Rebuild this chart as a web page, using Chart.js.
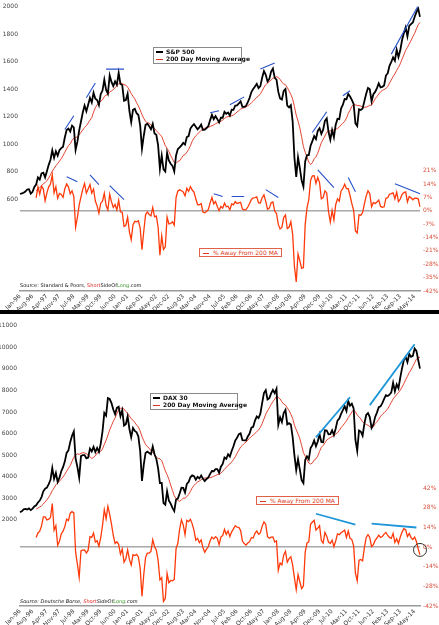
<!DOCTYPE html>
<html>
<head>
<meta charset="utf-8">
<script src="https://cdn.jsdelivr.net/npm/chart.js@4.4.0/dist/chart.umd.min.js"></script>
<style>
body { margin: 0; background: #fff; font-family: "DejaVu Sans", Verdana, sans-serif; }
#wrap { position: relative; width: 439px; height: 625px; overflow: hidden; }
#wrap canvas { position: absolute; left: 0; }
#topChart { top: 0; }
#botChart { top: 314px; }
.sep { position: absolute; left: 0; top: 310px; width: 439px; height: 4px; background: #000; }
.leg { position: absolute; background: #fff; border: 1px solid #8a8a8a; font: bold 6px "DejaVu Sans", Verdana, sans-serif; line-height: 7px; padding: 0 2px; white-space: nowrap; color: #111; }
.leg .k { display: inline-block; width: 7px; margin-right: 3px; vertical-align: middle; }
.pleg { position: absolute; background: #fff; border: 1px solid #e0604a; color: #e03a20; font: 6px "DejaVu Sans", Verdana, sans-serif; line-height: 7px; padding: 0 3px; white-space: nowrap; }
.pleg .k { display: inline-block; width: 6px; height: 1px; background: #e03a20; margin-right: 4px; vertical-align: middle; }
.src { position: absolute; left: 20px; font: 5px "DejaVu Sans", Verdana, sans-serif; color: #111; white-space: nowrap; }
</style>
</head>
<body>
<div id="wrap">
  <canvas id="topChart" width="439" height="310"></canvas>
  <div class="sep"></div>
  <canvas id="botChart" width="439" height="311"></canvas>

  <div class="leg" style="left:153px;top:47px;width:83px;height:15px;">
    <div><span class="k" style="height:2px;background:#000"></span>S&amp;P 500</div>
    <div><span class="k" style="height:1px;background:#e0301e"></span>200 Day Moving Average</div>
  </div>
  <div class="pleg" style="left:199px;top:248px;"><span class="k"></span>% Away From 200 MA</div>
  <div class="src" style="top:282px;">Source: Standard &amp; Poors, <span style="color:#e02020">Short</span>SideOf<span style="color:#3a9a2a">Long</span>.com</div>

  <div class="leg" style="left:150px;top:393px;width:82px;height:15px;">
    <div><span class="k" style="height:2px;background:#000"></span>DAX 30</div>
    <div><span class="k" style="height:1px;background:#e0301e"></span>200 Day Moving Average</div>
  </div>
  <div class="pleg" style="left:256px;top:496px;"><span class="k"></span>% Away From 200 MA</div>
  <div class="src" style="top:598px;font-style:italic;">Source: Deutsche Borse, <span style="color:#e02020">Short</span>SideOf<span style="color:#3a9a2a">Long</span>.com</div>
</div>

<script>
// months Jan-96 .. Aug-14, one value per month
const monthNames = ['Jan','Feb','Mar','Apr','May','Jun','Jul','Aug','Sep','Oct','Nov','Dec'];
const months = [];
for (let y = 1996; y <= 2014; y++) {
  for (let m = 0; m < 12; m++) {
    if (y === 2014 && m > 7) break;
    months.push(monthNames[m] + '-' + String(y).slice(2));
  }
}
const tickLabels = ['Jan-96','Aug-96','Apr-97','Nov-97','Jul-98','Mar-99','Oct-99','Jun-00','Jan-01','Sep-01',
  'May-02','Dec-02','Aug-03','Mar-04','Nov-04','Jul-05','Feb-06','Oct-06','May-07','Jan-08',
  'Aug-08','Apr-09','Dec-09','Jul-10','Mar-11','Oct-11','Jun-12','Feb-13','Sep-13','May-14'];

// moving average and % series start 9 months in
const maStart = 9;

const spx = [
  636,640,645,654,669,671,639,652,687,705,757,741,
  786,791,757,801,848,885,954,899,947,915,955,970,
  980,1049,1102,1112,1091,1134,1121,957,1017,1099,1164,1229,
  1280,1238,1286,1335,1302,1373,1329,1320,1283,1363,1389,1469,
  1394,1366,1499,1452,1421,1455,1431,1518,1437,1429,1315,1320,
  1366,1240,1160,1249,1256,1224,1211,1134,965,1060,1139,1148,
  1130,1107,1147,1077,1067,990,820,916,815,800,936,880,
  856,841,800,917,964,975,990,1008,996,1051,1058,1112,
  1131,1145,1126,1107,1121,1141,1102,1104,1115,1130,1174,1212,
  1181,1204,1181,1157,1192,1191,1234,1220,1229,1207,1249,1248,
  1280,1281,1295,1311,1270,1270,1277,1304,1336,1378,1401,1418,
  1438,1407,1421,1482,1531,1503,1455,1474,1527,1549,1481,1468,
  1379,1331,1323,1386,1400,1280,1267,1283,1165,900,760,903,
  826,735,690,873,919,919,987,1021,1057,1036,1096,1115,
  1074,1104,1169,1187,1089,1031,1102,1049,1141,1183,1181,1258,
  1286,1327,1326,1364,1345,1321,1292,1150,1131,1253,1247,1258,
  1312,1366,1408,1398,1310,1362,1379,1407,1441,1412,1416,1426,
  1498,1515,1569,1598,1631,1606,1686,1633,1682,1757,1806,1848,
  1783,1859,1872,1884,1924,1960,1985,1925
];
const spxMA = [
  660,672,682,696,710,719,732,753,776,803,
  822,841,858,875,893,915,940,966,988,1002,
  1026,1043,1047,1053,1066,1085,1103,1120,1133,1153,
  1173,1191,1232,1264,1286,1298,1311,1322,1345,1356,
  1359,1379,1386,1396,1409,1424,1439,1444,1440,1432,
  1428,1414,1393,1367,1347,1329,1300,1277,1248,1213,
  1187,1164,1155,1152,1137,1127,1112,1097,1083,1069,
  1054,1022,987,968,945,916,892,865,858,873,
  878,896,917,923,940,960,987,1020,1043,1059,
  1072,1086,1099,1109,1115,1120,1122,1127,1133,1139,
  1148,1154,1156,1165,1174,1186,1195,1200,1200,1206,
  1211,1221,1233,1243,1255,1259,1264,1269,1279,1287,
  1300,1312,1326,1340,1350,1365,1386,1412,1432,1443,
  1453,1466,1479,1483,1489,1485,1470,1449,1437,1432,
  1412,1386,1360,1328,1271,1210,1167,1117,1052,981,
  940,905,869,851,863,893,906,933,971,1010,
  1033,1058,1085,1095,1096,1100,1102,1106,1113,1124,
  1139,1151,1165,1188,1222,1246,1273,1288,1285,1280,
  1280,1276,1269,1267,1268,1274,1282,1283,1305,1329,
  1345,1364,1380,1390,1396,1405,1417,1443,1466,1491,
  1511,1536,1558,1584,1618,1648,1682,1703,1729,1753,
  1781,1805,1838,1868,1885
];
const spxPct = [
  6.8,12.6,8.7,12.9,11.4,5.3,9.4,12.6,14.0,18.8,
  9.4,12.6,6.6,9.1,8.6,7.1,11.6,14.1,12.6,8.9,
  10.5,7.5,-8.6,-3.4,3.1,7.3,11.4,14.3,9.3,11.5,
  13.8,9.3,11.4,5.1,2.6,-1.2,4.0,5.1,9.2,2.8,
  0.5,8.7,4.8,1.8,3.3,0.5,5.5,-0.5,-0.8,-8.2,
  -7.6,-3.4,-11.0,-15.1,-7.3,-5.5,-5.8,-5.2,-9.1,-20.4,
  -10.7,-2.1,-0.6,-1.9,-2.6,1.8,-3.1,-2.7,-8.6,-23.3,
  -13.1,-20.3,-18.9,-3.3,-6.9,-6.6,-5.7,-7.5,6.9,10.4,
  11.0,10.5,9.9,7.9,11.8,10.2,12.7,10.9,9.8,6.3,
  3.3,3.2,3.8,-0.6,-1.0,-0.4,0.7,4.2,7.0,3.7,
  4.9,2.3,0.1,2.3,1.4,4.0,2.1,2.4,0.6,3.6,
  3.1,4.8,3.9,4.2,4.5,0.9,0.5,0.6,2.0,3.8,
  6.0,6.8,6.9,7.3,4.2,4.1,6.9,8.4,5.0,0.8,
  1.4,4.2,4.7,-0.1,-1.4,-7.1,-9.5,-8.7,-3.5,-2.2,
  -9.3,-8.6,-5.7,-12.3,-29.2,-37.2,-22.6,-26.1,-30.1,-29.7,
  -7.1,1.5,5.8,16.0,18.3,18.4,14.3,17.5,14.8,6.3,
  6.9,10.5,9.4,-0.5,-5.9,0.2,-4.8,3.2,6.3,5.1,
  10.4,11.7,13.9,11.6,11.6,7.9,3.8,0.3,-10.5,-11.6,
  -2.1,-2.3,-0.9,3.6,7.7,10.5,9.0,2.1,4.4,3.8,
  4.6,5.6,2.3,1.9,2.1,6.6,6.9,8.7,9.0,9.4,
  6.3,9.8,4.8,6.2,8.6,9.6,9.9,4.7,7.5,6.8,
  5.8,6.6,6.6,6.3,2.1
];

const dax = [
  2352,2390,2485,2500,2478,2524,2446,2514,2621,2671,2800,2889,
  3050,3320,3439,3490,3650,3850,4400,3900,4170,3750,3950,4250,
  4440,4710,5100,5220,5600,5900,6100,4830,4450,3950,4950,5000,
  5000,4850,4880,5300,5170,5380,5140,5330,5150,5520,6100,6960,
  6830,7640,7600,7410,7110,6900,7190,7240,6800,7080,6370,6430,
  6790,6210,5830,6260,6120,6060,5860,5190,3800,4560,5100,5160,
  5100,5040,5400,5040,4820,4380,3700,3710,2770,2700,3320,2890,
  2750,2550,2400,2940,2980,3220,3490,3480,3260,3660,3750,3970,
  4060,4020,3860,3990,3920,4050,3900,3790,3890,3960,4130,4260,
  4250,4350,4350,4180,4460,4590,4890,4830,5040,4930,5190,5410,
  5670,5800,5970,6010,5690,5680,5680,5860,6000,6270,6310,6600,
  6790,6720,6920,7410,7880,8010,7580,7640,7860,8020,7870,8070,
  6400,6750,6530,6950,7100,6420,6480,6420,5830,4990,4300,4810,
  4340,3840,3700,4770,4940,4810,5330,5460,5680,5410,5630,5960,
  5610,5600,6150,6140,5960,5970,6150,5930,6230,6600,6690,6910,
  7080,7270,7040,7510,7290,7380,7160,5700,5200,6140,6090,5900,
  6460,6860,6950,6760,6260,6420,6770,6970,7220,7260,7410,7610,
  7780,7740,7800,7910,8350,7960,8280,8100,8590,9030,9410,9550,
  9310,9690,9560,9600,9940,9830,9410,9010
];
const daxMA = [
  2498,2543,2593,2649,2731,2827,2924,3044,3178,3356,
  3479,3616,3702,3792,3885,3985,4107,4252,4389,4509,
  4709,4902,5010,5060,5030,5081,5110,5100,5063,4991,
  4931,4838,4893,4962,5100,5120,5172,5282,5493,5688,
  5922,6165,6368,6565,6722,6926,7098,7168,7180,7134,
  7013,6932,6812,6684,6620,6513,6395,6301,6112,5855,
  5668,5499,5394,5321,5199,5127,5025,4921,4840,4830,
  4745,4512,4266,4088,3873,3608,3359,3117,2973,2901,
  2852,2924,3002,2996,3073,3173,3315,3481,3589,3677,
  3754,3797,3854,3918,3931,3945,3944,3951,3975,4014,
  4050,4093,4106,4162,4242,4342,4429,4520,4587,4681,
  4787,4919,5081,5232,5374,5454,5539,5603,5696,5777,
  5863,5927,6007,6089,6160,6283,6456,6676,6891,7049,
  7186,7341,7483,7591,7726,7674,7608,7473,7367,7319,
  7197,7059,6899,6695,6387,6177,5983,5764,5453,5113,
  4948,4794,4633,4583,4630,4768,4828,4957,5169,5360,
  5443,5564,5697,5760,5811,5858,5910,5970,6034,6142,
  6273,6366,6479,6587,6741,6855,7000,7093,7003,6854,
  6777,6678,6541,6483,6418,6384,6322,6232,6304,6461,
  6544,6657,6793,6888,6963,7046,7144,7298,7447,7605,
  7704,7810,7894,8012,8154,8317,8498,8649,8827,8948,
  9112,9278,9451,9533,9531
];
const daxPct = [
  6.9,10.1,11.4,15.1,21.6,21.6,19.4,19.9,21.1,31.1,
  12.1,15.3,1.3,4.2,9.4,11.4,14.7,19.9,18.9,24.2,
  25.3,24.4,-3.6,-12.1,-21.5,-2.6,-2.2,-2.0,-4.2,-2.2,
  7.5,6.9,10.0,3.6,4.5,0.6,6.7,15.5,26.7,20.1,
  29.0,23.3,16.4,8.3,2.6,3.8,2.0,-5.1,-1.4,-10.7,
  -8.3,-2.0,-8.8,-12.8,-5.4,-6.0,-5.2,-7.0,-15.1,-35.1,
  -19.5,-7.3,-4.3,-4.2,-3.1,5.3,0.3,-2.1,-9.5,-23.4,
  -21.8,-38.6,-36.7,-18.8,-25.4,-23.8,-24.1,-23.0,-1.1,2.7,
  12.9,19.4,15.9,8.8,19.1,18.2,19.8,16.6,12.0,5.0,
  6.3,3.2,5.1,-0.5,-3.6,-1.4,0.4,4.5,7.2,5.9,
  7.4,6.3,1.8,7.2,8.2,12.6,9.1,11.5,7.5,10.9,
  13.0,15.3,14.2,14.1,11.8,4.3,2.5,1.4,2.9,3.9,
  6.9,6.5,9.9,11.5,9.1,10.1,14.8,18.0,16.2,7.5,
  6.3,7.1,7.2,3.7,4.5,-16.6,-11.3,-12.6,-5.7,-3.0,
  -10.8,-8.2,-6.9,-12.9,-21.9,-30.4,-19.6,-24.7,-29.6,-27.6,
  -3.6,3.0,3.8,16.3,17.9,19.1,12.1,13.6,15.3,4.7,
  2.9,10.5,7.8,3.5,2.7,5.0,0.3,4.4,9.4,8.9,
  10.2,11.2,12.2,6.9,11.4,6.3,5.4,0.9,-18.6,-24.1,
  -9.4,-8.8,-9.8,-0.4,6.9,8.9,6.9,0.4,1.8,4.8,
  6.5,8.5,6.9,7.6,9.3,10.4,8.3,6.9,6.2,9.8,
  3.3,6.0,2.6,7.2,10.7,13.1,12.4,7.6,9.8,6.8,
  5.4,7.1,4.0,-1.3,-5.5
];

// hand-drawn trend lines: [startMonth, startValue, endMonth, endValue]
const spxTrend = [[25,1105,30,1206],[37,1336,42,1444],[48,1545,58,1545],[106,1228,111,1242],
  [117,1286,125,1343],[134,1545,142,1589],[163,1084,171,1235],[180,1351,184,1387],[207,1654,222,2007]];
const spxPctTrend = [[26,17.9,32,15.3],[39,18.9,44,13.7],[50,13.2,58,5.9],[108,9.0,113,7.5],
  [118,7.5,125,7.5],[137,11.1,144,7.0],[166,21.5,175,12.1],[183,17.4,187,10.0],[209,14.2,223,9.0]];
const daxTrend = [[165,5818,184,7682],[195,7318,220,10136]];
const daxPctTrend = [[165,23.8,187,16.1],[196,16.8,221,14.0]];
const daxCircle = [223, -2];

const spxLeftTicks = [600,800,1000,1200,1400,1600,1800,2000];
const spxRightTicks = [-42,-35,-28,-21,-14,-7,0,7,14,21];
const daxLeftTicks = [2000,3000,4000,5000,6000,7000,8000,9000,10000,11000];
const daxRightTicks = [-42,-28,-14,0,14,28,42];

const pad = n => Array(n).fill(null);
const tickFont = { family: 'DejaVu Sans', size: 6 };

function trendSets(list, axis, color, width) {
  return list.map(t => ({
    data: [{ x: months[t[0]], y: t[1] }, { x: months[t[2]], y: t[3] }],
    yAxisID: axis, borderColor: color, borderWidth: width, pointRadius: 0, tension: 0
  }));
}

function makeChart(id, cfg) {
  const datasets = [].concat(
    trendSets(cfg.trend, 'y', cfg.trendColor, cfg.trendWidth),
    trendSets(cfg.pctTrend, 'y2', cfg.trendColor, cfg.trendWidth),
    cfg.extra || [],
    [
      { data: cfg.price, yAxisID: 'y', borderColor: '#000', borderWidth: 1.8, pointRadius: 0, tension: 0 },
      { data: pad(maStart).concat(cfg.ma), yAxisID: 'y', borderColor: '#e0301e', borderWidth: 0.9, pointRadius: 0, tension: 0 },
      { data: pad(maStart).concat(cfg.pct), yAxisID: 'y2', borderColor: '#ff3a0a', borderWidth: 1.3, pointRadius: 0, tension: 0 }
    ]
  );
  return new Chart(document.getElementById(id), {
    type: 'line',
    data: { labels: months, datasets: datasets },
    options: {
      responsive: false, animation: false, events: [],
      layout: { padding: { top: cfg.padTop, left: 0, right: 0, bottom: 0 } },
      plugins: { legend: { display: false }, tooltip: { enabled: false } },
      scales: {
        x: {
          offset: false,
          grid: { display: false, drawTicks: false },
          border: { display: true, color: '#9a9a9a', width: 1.5 },
          afterFit: s => { s.height = 19; s.paddingLeft = 0; s.paddingRight = 0; },
          ticks: {
            autoSkip: false, minRotation: 45, maxRotation: 45, padding: 2,
            font: tickFont, color: '#333',
            callback: function (v) { const l = this.getLabelForValue(v); return tickLabels.includes(l) ? l : null; }
          }
        },
        y: {
          position: 'left', min: cfg.leftMin, max: cfg.leftMax,
          grid: { display: false, drawTicks: false }, border: { display: false },
          afterFit: s => { s.width = 20; },
          afterBuildTicks: s => { s.ticks = cfg.leftTicks.map(v => ({ value: v })); },
          ticks: { font: tickFont, color: '#444', padding: cfg.leftPad, callback: v => String(v) }
        },
        y2: {
          position: 'right', min: cfg.rightMin, max: cfg.rightMax,
          border: { display: false },
          grid: { drawTicks: false, lineWidth: 1.5, color: c => (c.tick && c.tick.value === 0 ? '#a8a8a8' : 'rgba(0,0,0,0)') },
          afterFit: s => { s.width = 19; },
          afterBuildTicks: s => { s.ticks = cfg.rightTicks.map(v => ({ value: v })); },
          ticks: { font: tickFont, color: '#d8503c', padding: 3, callback: v => v + '%' }
        }
      }
    }
  });
}

makeChart('topChart', {
  price: spx, ma: spxMA, pct: spxPct,
  trend: spxTrend, pctTrend: spxPctTrend, trendColor: '#2650c8', trendWidth: 1.1,
  leftMin: -70, leftMax: 2000, rightMin: -42, rightMax: 107,
  leftTicks: spxLeftTicks, rightTicks: spxRightTicks, padTop: 4, leftPad: 2
});

makeChart('botChart', {
  price: dax, ma: daxMA, pct: daxPct,
  trend: daxTrend, pctTrend: daxPctTrend, trendColor: '#1e96d8', trendWidth: 1.8,
  extra: [{
    data: [{ x: months[daxCircle[0]], y: daxCircle[1] }], yAxisID: 'y2', showLine: false,
    pointRadius: 6.5, pointBorderColor: '#222', pointBorderWidth: 0.9, pointBackgroundColor: 'rgba(0,0,0,0)'
  }],
  leftMin: -2000, leftMax: 11200, rightMin: -42, rightMax: 161,
  leftTicks: daxLeftTicks, rightTicks: daxRightTicks, padTop: 2, leftPad: 3
});
</script>
</body>
</html>
